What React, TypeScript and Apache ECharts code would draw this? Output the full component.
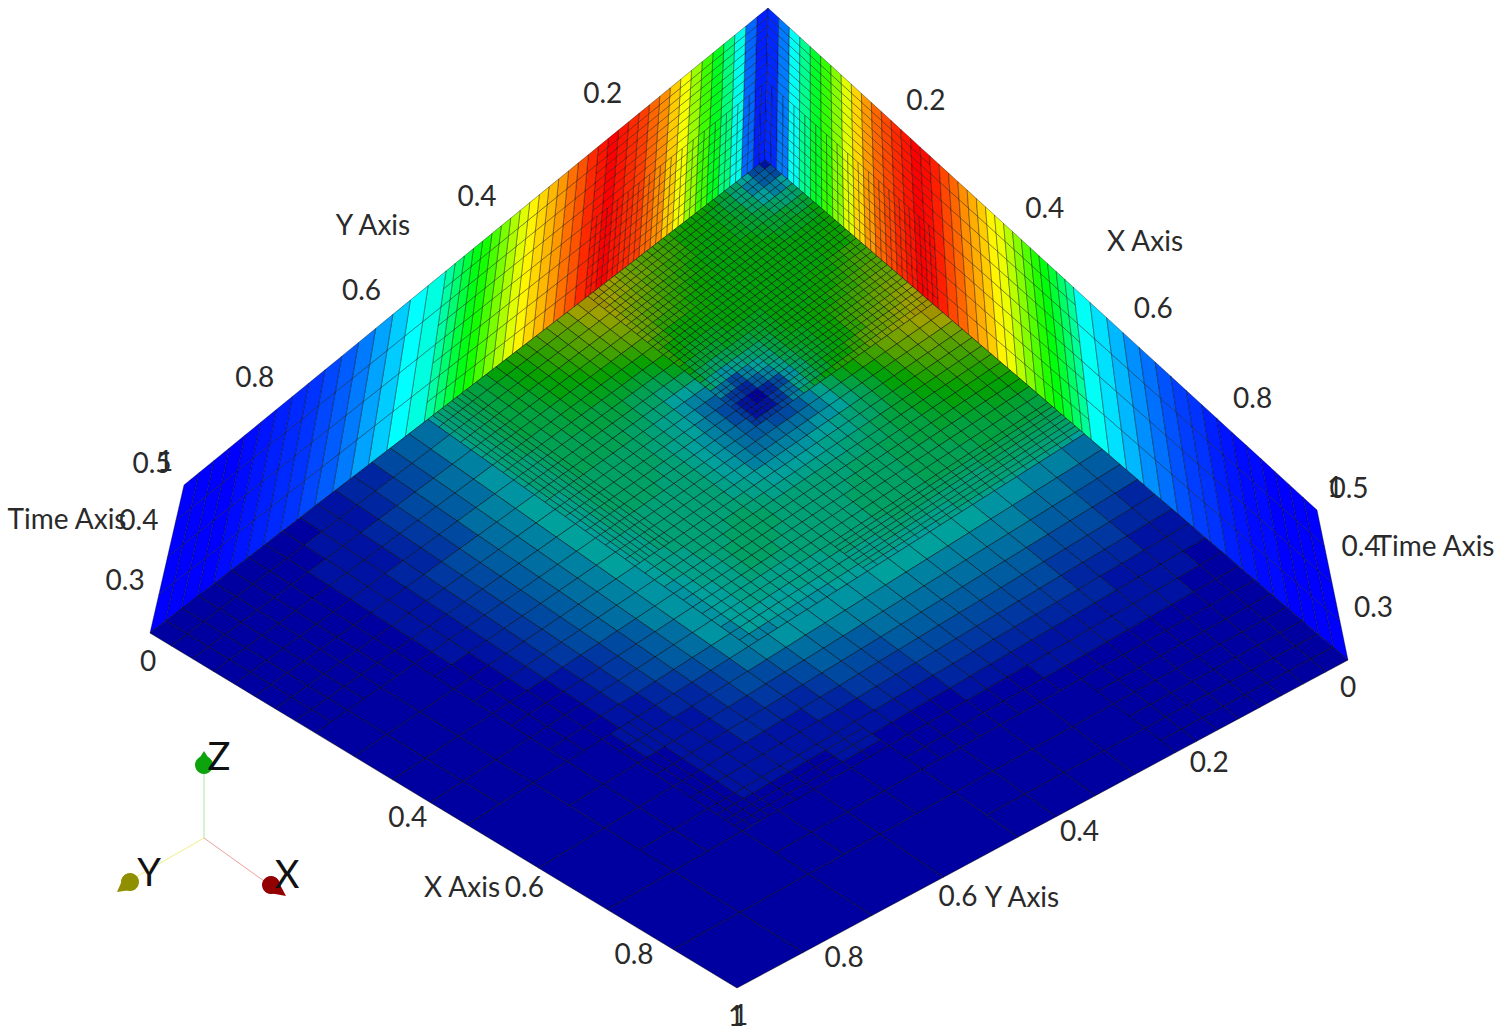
import React, { useEffect, useRef } from "react";
import * as echarts from "echarts";

// du level (cell size 2^-level) of the floor mesh per 1/16 block; rows are Y, columns are X. dv is the transpose.
const MESH_LEVELS = [
  "7777666755555555", "7777666755555555", "7777666755555555", "7777666755555555",
  "6666666755555444", "6666666655555444", "6666666655555444", "6666666655555444",
  "5555555555564433", "5555555555564433", "5555555555564433", "5555555555564433",
  "5555555544443333", "5555444444443333", "5555444433333333", "5555444433333333",
];

// Floor values, base-36 codes (0..z => 0..1); lower triangle, mirrored across the diagonal.
// Inner block: x, y <= 0.5 on a 1/64 grid.
const FLOOR_INNER = [
  "1", "45", "979", "cbce", "feffg", "hggghh", "ihhhhhh", "iihhhhhh", "jiihhhhhh", "kkjiihhhhg",
  "llkjiihhhgf", "mmlkjiihhgec", "nnmlkjihggeb9", "oonmlkihgfda75", "qponmkihgfc8420", "rqponmkihfda63112",
  "rrqponlkjhfc7433333", "rrqponlkigda754455", "qqponmkigec97666666", "ponnmljhfdb988777777",
  "nnmmlkihfdcba99888899", "mmllkjigfdcbaaa9999 9aa", "llkkjihgfedcbbaaaaaaabb", "kkjjihggeedccbbbbbbbbbcc",
  "jjiihhgfeeddcccbbbbbbbccc", "iihhggffeeddccccbbbbbbbccc", "hhggffeeedddcccccbbbbbbbccc",
  "fffffeeeddddcccccbbbbbbbbbbb", "eeeeeeedddddcccccbbbbbbbaaaaa", "ddddddddccccccccbbbbbbaaaaaaaa",
  "ccccccccbbbbbbbbbbaaaaaaaa99999", "bbbbbbbbbbbbaaaaaaaaaaaa99999999", "99aaaaaaaaaaaa9999999999888888777",
];
// Outer part: rows y = 16/32 .. 32/32 on a 1/32 grid.
const FLOOR_OUTER = [
  "78889999999988887", "667788999998888876", "4556677777777766544", "34455666666665554332",
  "223444555555544432222", "2223334444444333221111", "11122233333332221111111", "011112222222211111100000",
  "0011111111111000000000000", "00011111110000000000000000",
];

// Wall colour per 1/64 column
const WALL_LEFT = [
  .03, .1, .27, .38, .47, .56, .65, .74, .8, .86, .9, .94, .96, .98, 1, .98,
  .96, .92, .89, .85, .82, .79, .76, .72, .67, .62, .57, .52, .48, .44, .39, .34,
  .28, .28, .25, .25, .2, .2, .16, .16, .12, .12, .09, .09, .07, .07, .05, .05,
  .04, .04, .03, .03, .02, .02, .01, .01, 0, 0, 0, 0, 0, 0, 0, 0,
];
const WALL_RIGHT = [
  .04, .12, .26, .36, .46, .55, .63, .72, .79, .85, .9, .93, .96, .98, 1, .99,
  .97, .93, .9, .86, .83, .8, .76, .73, .68, .63, .58, .53, .49, .45, .4, .35,
  .26, .26, .22, .22, .18, .18, .14, .14, .11, .11, .08, .08, .06, .06, .05, .05,
  .03, .03, .02, .02, .01, .01, .01, .01, 0, 0, 0, 0, 0, 0, 0, 0,
];

const EDGE_TICKS_X = [0, 0.4, 0.6, 0.8, 1];
const EDGE_TICKS_Y = [0, 0.2, 0.4, 0.6, 0.8, 1];
const TOP_TICKS = [0.2, 0.4, 0.6, 0.8, 1];
const TIME_TICKS = [0.3, 0.4, 0.5];
const TIME_MIN = 0.25;
const TIME_MAX = 0.5;

type P = [number, number];
function homography(p00: P, p10: P, p11: P, p01: P) {
  const dx1 = p10[0] - p11[0], dy1 = p10[1] - p11[1];
  const dx2 = p01[0] - p11[0], dy2 = p01[1] - p11[1];
  const sx = p00[0] - p10[0] + p11[0] - p01[0], sy = p00[1] - p10[1] + p11[1] - p01[1];
  const det = dx1 * dy2 - dy1 * dx2;
  const g = (sx * dy2 - sy * dx2) / det, h = (dx1 * sy - dy1 * sx) / det;
  const a = p10[0] - p00[0] + g * p10[0], b = p01[0] - p00[0] + h * p01[0];
  const d = p10[1] - p00[1] + g * p10[1], e = p01[1] - p00[1] + h * p01[1];
  return (u: number, v: number): P => {
    const w = 1 + g * u + h * v;
    return [(a * u + b * v + p00[0]) / w, (d * u + e * v + p00[1]) / w];
  };
}

const A0: P = [765, 160], A1: P = [768, 8], B0: P = [1348, 660], B1: P = [1317, 510];
const C0: P = [737, 988], D0: P = [150, 633], D1: P = [184, 485];
const projFloor = homography(A0, B0, C0, D0);
const projLeft = homography(A0, D0, D1, A1);
const projRight = homography(A0, B0, B1, A1);

function jet(v: number, k: number) {
  const cl = (x: number) => Math.max(0, Math.min(1, x));
  const c = (x: number) => Math.round(255 * k * cl(x));
  const r = 4 * v - 2;
  const g = Math.min(4 * v, 4 - 4 * v);
  const b = 2 - 4 * v;
  return `rgb(${c(r)},${c(g)},${c(b)})`;
}

function code(row: string | undefined, i: number) {
  if (!row) return 0;
  const compact = row.replace(/ /g, "");
  const ch = compact[Math.min(i, compact.length - 1)];
  return parseInt(ch, 36) / 35;
}

function floorValue(u: number, v: number) {
  if (u <= 0.5 && v <= 0.5) {
    const i = Math.floor(u * 64 + .5), j = Math.floor(v * 64 + .5);
    return code(FLOOR_INNER[Math.max(i, j)], Math.min(i, j));
  }
  const i = Math.floor(u * 32 + .5), j = Math.floor(v * 32 + .5);
  return code(FLOOR_OUTER[Math.max(i, j) - 16], Math.min(i, j));
}

function floorCells() {
  const seen = new Set<string>();
  const out: number[][] = [];
  for (let j = 0; j < 16; j++) for (let i = 0; i < 16; i++) {
    const du = 2 ** -Number(MESH_LEVELS[j][i]);
    const dv = 2 ** -Number(MESH_LEVELS[i][j]);
    for (let a = Math.floor(i / 16 / du); a * du < (i + 1) / 16 - 1e-9; a++) {
      for (let b = Math.floor(j / 16 / dv); b * dv < (j + 1) / 16 - 1e-9; b++) {
        const key = `${a * du},${b * dv},${du},${dv}`;
        if (seen.has(key)) continue;
        seen.add(key);
        out.push([a * du, b * dv, du, dv, floorValue((a + .5) * du, (b + .5) * dv)]);
      }
    }
  }
  return out;
}

function wallCells(profile: number[]) {
  const bands = [
    [0, .25, 0, .5, 128, 16], [0, .25, .5, 1, 64, 16],
    [.25, .5, 0, 1, 64, 8], [.5, 1, 0, 1, 32, 4],
  ];
  const out: number[][] = [];
  for (const [a0, a1, s0, s1, na, ns] of bands) {
    for (let a = a0; a < a1 - 1e-9; a += 1 / na) {
      for (let s = s0; s < s1 - 1e-9; s += 1 / ns) {
        const k = Math.min(63, Math.floor((a + .5 / na) * 64));
        out.push([a, s, 1 / na, 1 / ns, profile[k]]);
      }
    }
  }
  return out;
}

function cellSeries(data: number[][], proj: (a: number, b: number) => P, dim: number, stroke: string, lineWidth: number) {
  return {
    type: "custom", data, silent: true, clip: false, progressive: 0,
    encode: { x: 0, y: 1 },
    renderItem: (_: any, api: any) => {
      const a = api.value(0), b = api.value(1), da = api.value(2), db = api.value(3);
      const pts = [[a, b], [a + da, b], [a + da, b + db], [a, b + db]].map(([p, q]) => api.coord(proj(p, q)));
      return {
        type: "polygon", shape: { points: pts },
        style: { fill: jet(api.value(4), dim), stroke, lineWidth },
      };
    },
  };
}

const FONT = '28px Lato, "Open Sans", sans-serif';
function label(text: string, x: number, y: number, font = FONT, fill = "#2a2a2a") {
  return { type: "text", z: 10, x, y, style: { text, x: 0, y: 0, font, fill, align: "center", verticalAlign: "middle" } };
}

function labels() {
  const out: any[] = [];
  EDGE_TICKS_X.forEach((t) => {
    const [x, y] = projFloor(t, 1);
    out.push(label(String(t), t === 0 ? x - 2 : t === 1 ? x - 1 : x, y + 27));
  });
  EDGE_TICKS_Y.forEach((t) => {
    const [x, y] = projFloor(1, t);
    out.push(label(String(t), t === 1 ? x + 3 : x, y + 26));
  });
  TOP_TICKS.forEach((t) => {
    const [lx, ly] = projLeft(t, 1);
    out.push(label(String(t), t === 1 ? lx - 19 : lx - 28, t === 1 ? ly - 25 : ly - 28));
    const [rx, ry] = projRight(t, 1);
    out.push(label(String(t), t === 1 ? rx + 18 : rx + 27, t === 1 ? ry - 24 : ry - 29));
  });
  TIME_TICKS.forEach((t) => {
    const s = (t - TIME_MIN) / (TIME_MAX - TIME_MIN);
    const [lx, ly] = projLeft(1, s);
    out.push(label(String(t), lx - 32, ly - 23));
    const [rx, ry] = projRight(1, s);
    out.push(label(String(t), rx + 32, ry - 23));
  });
  out.push(label("Time Axis", 67, 518), label("Time Axis", 1435, 545));
  out.push(label("Y Axis", 373, 224), label("X Axis", 1145, 240));
  out.push(label("X Axis", 462, 886), label("Y Axis", 1022, 896));
  return out;
}

function triad() {
  const line = (x2: number, y2: number, stroke: string) => ({
    type: "line", z: 9, shape: { x1: 204, y1: 838, x2, y2 }, style: { stroke, lineWidth: 1 },
  });
  const cone = (cx: number, cy: number, r: number, tip: P, fill: string) => {
    const ang = Math.atan2(tip[1] - cy, tip[0] - cx);
    return [
      { type: "circle", z: 9, shape: { cx, cy, r }, style: { fill } },
      {
        type: "polygon", z: 9,
        shape: { points: [[cx + r * Math.cos(ang + 1.57), cy + r * Math.sin(ang + 1.57)], tip, [cx + r * Math.cos(ang - 1.57), cy + r * Math.sin(ang - 1.57)]] },
        style: { fill },
      },
    ];
  };
  const big = '38px Lato, "Open Sans", sans-serif';
  return [
    line(204, 772, "#a6e6a6"), line(136, 877, "#f0f080"), line(264, 881, "#eea0a0"),
    ...cone(204, 765, 9, [204, 751], "#0ca30c"),
    ...cone(130, 882, 9, [117, 892], "#8f8f00"),
    ...cone(271, 885, 9, [286, 896], "#930000"),
    label("Z", 219, 755, big, "#111"), label("Y", 149, 871, big, "#111"), label("X", 287, 873, big, "#111"),
  ];
}

export default function App() {
  const ref = useRef<HTMLDivElement>(null);
  useEffect(() => {
    document.body.style.margin = "0";
    const chart = echarts.init(ref.current!, undefined, { renderer: "svg" });
    chart.setOption({
      animation: false,
      backgroundColor: "#fff",
      grid: { left: 0, right: 0, top: 0, bottom: 0 },
      xAxis: { type: "value", min: 0, max: 1500, show: false },
      yAxis: { type: "value", min: 0, max: 1036, inverse: true, show: false },
      tooltip: { show: false },
      graphic: { elements: [...labels(), ...triad()] },
      series: [
        cellSeries(wallCells(WALL_LEFT), projLeft, 1, "rgba(0,0,0,0.5)", 0.7),
        cellSeries(wallCells(WALL_RIGHT), projRight, 1, "rgba(0,0,0,0.5)", 0.7),
        cellSeries(floorCells(), projFloor, 0.63, "rgba(0,0,0,0.55)", 0.9),
      ],
    });
    return () => chart.dispose();
  }, []);
  return <div ref={ref} style={{ width: 1500, height: 1036 }} />;
}
